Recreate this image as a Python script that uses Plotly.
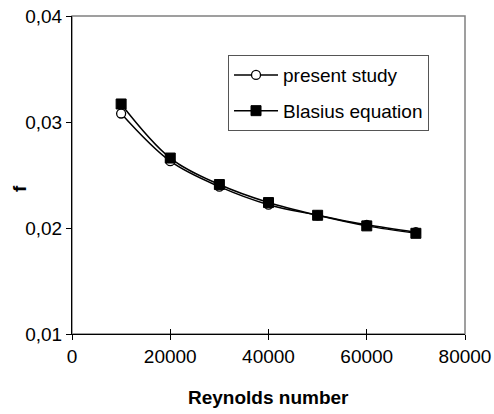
import plotly.graph_objects as go

reynolds = [10000, 20000, 30000, 40000, 50000, 60000, 70000]
present_study = [0.0308, 0.0263, 0.0239, 0.0222, 0.0212, 0.0203, 0.0196]
blasius = [0.0317, 0.0266, 0.0241, 0.0224, 0.0212, 0.0202, 0.0195]
x_ticks = [0, 20000, 40000, 60000, 80000]
y_ticks = [0.01, 0.02, 0.03, 0.04]

fig = go.Figure()
fig.add_trace(go.Scatter(
    x=reynolds, y=present_study, name="present study", legendgroup="a",
    mode="lines+markers", line=dict(color="black", width=1.5, shape="spline"),
    marker=dict(symbol="circle", size=9, color="white", line=dict(color="black", width=1.3)),
))
fig.add_trace(go.Scatter(
    x=reynolds, y=blasius, name="Blasius equation", legendgroup="b",
    mode="lines+markers", line=dict(color="black", width=1.5, shape="spline"),
    marker=dict(symbol="square", size=10, color="black", line=dict(color="black", width=1)),
))
# overlay axis for inside ticks on x
fig.add_trace(go.Scatter(x=[None], y=[None], xaxis="x2", showlegend=False, hoverinfo="skip"))

fig.update_layout(
    width=494, height=414,
    margin=dict(l=72, r=29, t=16, b=80),
    paper_bgcolor="white", plot_bgcolor="white",
    separators=",.",
    font=dict(family="Arial, Liberation Sans, sans-serif", size=19, color="black"),
    showlegend=True,
    legend=dict(x=0.397, y=0.877, xanchor="left", yanchor="top",
                bordercolor="#555", borderwidth=1, bgcolor="white",
                font=dict(size=19), tracegroupgap=8, itemwidth=44),
    xaxis=dict(range=[0, 80000], tickvals=x_ticks, tickformat="d", automargin=False,
               ticks="outside", ticklen=5, tickcolor="black", ticklabeloverflow="allow",
               showline=True, linecolor="black", linewidth=1,
               showgrid=False, zeroline=False),
    xaxis2=dict(range=[0, 80000], overlaying="x", tickvals=x_ticks, showticklabels=False,
                ticks="inside", ticklen=5, tickcolor="black", showgrid=False, zeroline=False,
                anchor="y", side="bottom", automargin=False),
    yaxis=dict(range=[0.01, 0.04], tickvals=y_ticks, tickformat=".2f", automargin=False,
               ticks="outside", ticklen=5, tickcolor="black", ticklabeloverflow="allow",
               showline=True, linecolor="black", linewidth=1,
               showgrid=False, zeroline=False),
    shapes=[dict(type="rect", xref="paper", yref="paper", x0=0, x1=1, y0=0, y1=1,
                 line=dict(color="#808080", width=1.5), layer="below")],
    annotations=[
        dict(text="<b>Reynolds number</b>", xref="paper", yref="paper", x=0.499, y=-0.201,
             xanchor="center", yanchor="middle", showarrow=False, font=dict(size=19)),
        dict(text="<b>f</b>", xref="paper", yref="paper", x=-0.132, y=0.456,
             xanchor="center", yanchor="middle", showarrow=False, textangle=-90,
             font=dict(size=19)),
    ],
)

fig.write_html("out.html", config={"displayModeBar": False},
               post_script="document.body.style.margin='0';document.body.style.overflow='hidden';")
